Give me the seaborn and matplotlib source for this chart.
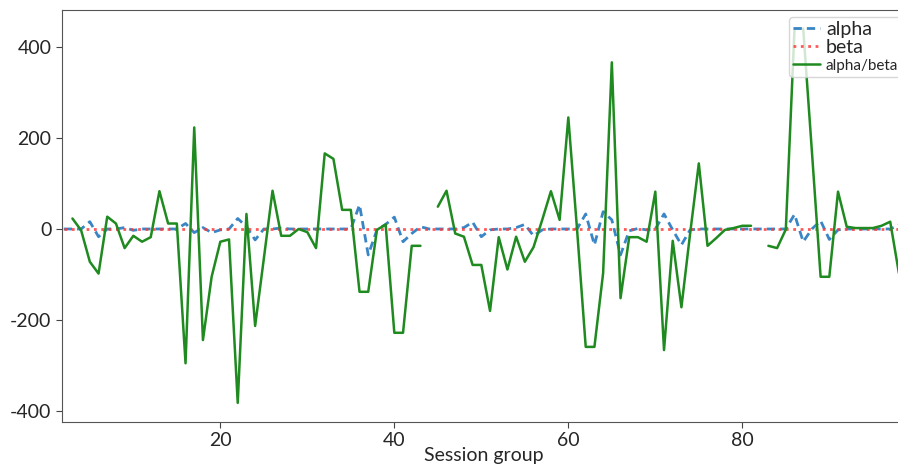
import numpy as np
import pandas as pd
import matplotlib
matplotlib.use("Agg")
import matplotlib.pyplot as plt
import seaborn as sns

# session groups shown on the x axis
session = list(range(2, 99))

alpha = [0, 0, 0, 16, -17, 0, 0, 3, -3, 0,
         0, 0, 0, 0, 12, -8, 3, -8, -2, 0,
         23, 5, -24, 0, 0, 2, 0, 0, 0, 0,
         0, 0, 0, 0, 53, -57, -2, 10, 26, -28,
         -10, 5, 0, 0, 0, 0, 3, 15, -17, -2,
         0, 0, 3, 10, -15, -2, 0, 0, 0, 0,
         33, -35, 38, 20, -57, -4, 1, -2, 0, 33,
         -2, -35, -2, 0, 0, 0, 0, 0, 0, 0,
         0, 0, 0, 0, 32, -28, 0, 18, -23, -2,
         0, 0, 0, 0, 0, 0, 9]

beta = [0.0] * len(session)

ratio = [np.nan, 23, -3, -72, -98, 27, 12, -42, -15, -28,
         -18, 83, 12, 12, -295, 223, -244, -105, -28, -23,
         -382, 33, -213, -65, 84, -15, -15, 0, -7, -42,
         166, 154, 42, 42, -138, -138, -2, 10, -228, -228,
         -37, -37, np.nan, 49, 84, -10, -17, -79, -79, -180,
         -18, -89, -17, -72, -40, 20, 83, 20, 245, 0,
         -259, -259, -97, 366, -152, -18, -18, -28, 82, -266,
         -26, -172, -10, 144, -37, -20, -2, 2, 7, 7,
         np.nan, -37, -42, -1, 440, 440, 170, -105, -105, 82,
         5, 2, 2, 2, 7, 16, -97]

df = pd.DataFrame({"session": session, "alpha": alpha, "beta": beta, "ratio": ratio})
# split ratio into runs so the missing groups stay as gaps
df["seg"] = df["ratio"].isna().cumsum()
ratio_df = df.dropna(subset=["ratio"])

sns.set_style("ticks")
plt.rcParams["font.family"] = ["Lato", "DejaVu Sans"]
plt.rcParams["axes.unicode_minus"] = False

fig = plt.figure(figsize=(8.98, 4.65), dpi=100)
ax = fig.add_axes([62 / 898, 1 - 422 / 465, (905 - 62) / 898, 412 / 465])

sns.lineplot(data=df, x="session", y="alpha", ax=ax, color="#3a85c6",
             linestyle=(0, (3, 1.8)), linewidth=2, label="alpha")
sns.lineplot(data=df, x="session", y="beta", ax=ax, color="#ff3b3b",
             linestyle=":", linewidth=2, alpha=0.85, label="beta")
sns.lineplot(data=ratio_df, x="session", y="ratio", units="seg", estimator=None,
             ax=ax, color="#1f8a1f", linewidth=1.8, label="alpha/beta")

ax.set_xlim(1.8, 98.7)
ax.set_ylim(-424, 481)
ax.set_xticks([20, 40, 60, 80])
ax.set_yticks([-400, -200, 0, 200, 400])
ax.tick_params(axis="both", labelsize=14, length=4, color="#444444", direction="out",
               bottom=True, left=True)
ax.set_xlabel("Session group", fontsize=14, labelpad=-2)
ax.set_ylabel("")
for s in ax.spines.values():
    s.set_visible(True)
    s.set_color("#555555")

# one entry per label
handles, labels = ax.get_legend_handles_labels()
uniq = dict(zip(labels, handles))
leg = ax.legend(uniq.values(), uniq.keys(), loc="upper left",
                bbox_to_anchor=(789 / 898, 1 - 17 / 465), bbox_transform=fig.transFigure,
                borderaxespad=0, fontsize=14, handlelength=1.4, handletextpad=0.3,
                labelspacing=0.05, borderpad=0.2, frameon=True, fancybox=True)
leg.get_frame().set_edgecolor("#cccccc")
leg.get_texts()[2].set_fontsize(11)

fig.savefig("out.png", dpi=100)
